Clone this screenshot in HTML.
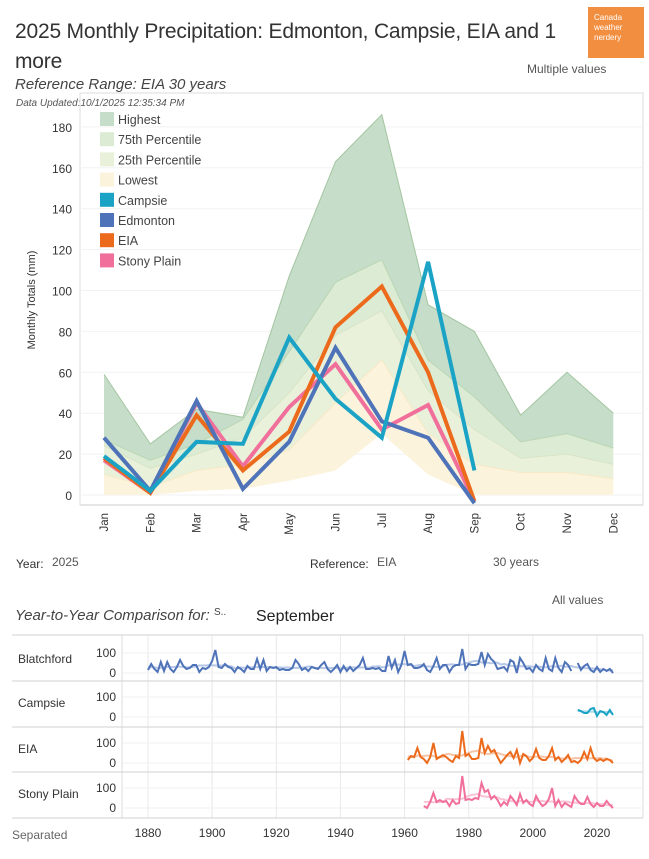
<!DOCTYPE html>
<html><head><meta charset="utf-8"><style>
body{margin:0;width:649px;height:859px;background:#fff;font-family:"Liberation Sans",sans-serif;color:#333;position:relative;overflow:hidden}
.t{position:absolute;white-space:nowrap}
</style></head><body>
<div class="t" style="left:15px;top:17px;font-size:21px;color:#333;line-height:30px;letter-spacing:-0.2px">2025 Monthly Precipitation: Edmonton, Campsie, EIA and 1<br>more</div>
<div class="t" style="left:588px;top:7px;width:56px;height:51px;background:#f28e3f;color:#fff;font-size:8px;line-height:10px;padding:6px 0 0 6px;box-sizing:border-box;white-space:normal">Canada weather nerdery</div>
<div class="t" style="left:527px;top:62px;font-size:12px;color:#555">Multiple values</div>
<div class="t" style="left:15px;top:76px;font-size:15px;font-style:italic;color:#444">Reference Range: EIA 30 years</div>
<div class="t" style="left:16px;top:98px;font-size:10px;font-style:italic;color:#555">Data Updated:10/1/2025 12:35:34 PM</div>
<svg id="main" width="649" height="545" style="position:absolute;left:0;top:0"></svg>
<div class="t" style="left:16px;top:557px;font-size:12px">Year:</div>
<div class="t" style="left:52px;top:555px;font-size:12px;color:#555">2025</div>
<div class="t" style="left:310px;top:557px;font-size:12px">Reference:</div>
<div class="t" style="left:377px;top:555px;font-size:12px;color:#555">EIA</div>
<div class="t" style="left:493px;top:555px;font-size:12px;color:#555">30 years</div>
<div class="t" style="left:552px;top:593px;font-size:12px;color:#555">All values</div>
<div class="t" style="left:15px;top:607px;font-size:15px;font-style:italic;color:#444">Year-to-Year Comparison for: <span style="font-size:10px;vertical-align:top;font-style:normal">S..</span></div>
<div class="t" style="left:256px;top:608px;font-size:16px;color:#222">September</div>
<div class="t" style="left:12px;top:828px;font-size:12px;color:#666">Separated</div>
<svg id="low" width="649" height="859" style="position:absolute;left:0;top:0"></svg>
<script>
const NS='http://www.w3.org/2000/svg';
const months=['Jan','Feb','Mar','Apr','May','Jun','Jul','Aug','Sep','Oct','Nov','Dec'];
const highest=[59,25,42,38,107,163,186,93,80,39,60,40];
const p75=[27,17,25,37,70,104,115,66,48,26,30,23];
const p50=[24,13,20,28,50,78,90,51,32,18,20,15];
const p25=[10,4,12,15,22,45,66,30,15,11,11,8];
const lowest=[0,0,2,3,7,12,30,10,0,0,0,0];
const campsie=[19,2,26,25,77,47,28,114,12];
const edmonton=[28,2,46,3,26,72,36,28,-4];
const eia=[18,1,39,12,31,82,102,60,-3];
const stony=[17,1,45,14,43,64,32,44,-3];
const yTicks=[0,20,40,60,80,100,120,140,160,180];

function el(svg,tag,a){const e=document.createElementNS(NS,tag);for(const k in a)e.setAttribute(k,a[k]);svg.appendChild(e);return e;}
const m=document.getElementById('main');
const X=i=>104+i*46.3, Y=v=>495-v*2.045;
el(m,'rect',{x:80,y:93,width:563,height:412,fill:'none',stroke:'#ddd'});
yTicks.forEach(v=>{
 const g=el(m,'line',{x1:80,x2:643,y1:Y(v),y2:Y(v),stroke:'#f2f2f2'});
 
 const t=el(m,'text',{x:72,y:Y(v)+5,'text-anchor':'end','font-size':12,fill:'#333'});t.textContent=v;
 
});
const yt=el(m,'text',{transform:'translate(35,300) rotate(-90)','text-anchor':'middle','font-size':11,fill:'#333'});yt.textContent='Monthly Totals (mm)';

function band(top,bot,fill,stroke,name){
 let d='M'+top.map((v,i)=>X(i)+','+Y(v)).join('L');
 for(let i=bot.length-1;i>=0;i--)d+='L'+X(i)+','+Y(bot[i]);
 const p=el(m,'path',{d:d+'Z',fill:fill,stroke:'none'});
 const l=el(m,'path',{d:'M'+top.map((v,i)=>X(i)+','+Y(v)).join('L'),fill:'none',stroke:stroke,'stroke-width':1});
 
}
band(highest,p75,'#c5ddc9','#a4c6a0','highest-band');
band(p75,p50,'#dbebd4','#bcd6b4','p75-band');
band(p50,p25,'#eaf1da','#d9e4c6','p25-band');
band(p25,lowest,'#fcf3dc','#f6e9c6','lowest-band');
el(m,'line',{x1:80,x2:643,y1:505,y2:505,stroke:'#ccc'});
months.forEach((mo,i)=>{const t=el(m,'text',{transform:`translate(${X(i)+4},513) rotate(-90)`,'text-anchor':'end','font-size':11.5,fill:'#333'});t.textContent=mo;
 });
function line(d,c,name){const p=el(m,'path',{d:'M'+d.map((v,i)=>X(i)+','+Y(v)).join('L'),fill:'none',stroke:c,'stroke-width':4,'stroke-linejoin':'miter'});}
line(stony,'#f0709b','stony-plain-line');
line(eia,'#ec6a1c','eia-line');
line(edmonton,'#4e73b8','edmonton-line');
line(campsie,'#1ba3c6','campsie-line');
const leg=[['Highest','#c5ddc9'],['75th Percentile','#dbebd4'],['25th Percentile','#eaf1da'],['Lowest','#fcf3dc'],['Campsie','#1ba3c6'],['Edmonton','#4e73b8'],['EIA','#ec6a1c'],['Stony Plain','#f0709b']];
leg.forEach((l,i)=>{const yy=112+i*20.2;
 const r=el(m,'rect',{x:100,y:yy,width:14,height:14,fill:l[1]});
 const t=el(m,'text',{x:118,y:yy+12,'font-size':12.5,fill:'#444'});t.textContent=l[0];});

// lower panel
const startB=1880;
const blatch=[15,45,20,5,55,10,55,20,5,30,65,35,20,25,40,40,5,25,20,30,60,115,30,25,45,30,25,5,30,20,5,35,20,20,70,20,65,10,30,25,30,15,20,15,15,25,65,45,15,25,10,30,25,20,40,55,20,5,20,40,5,35,10,30,10,25,40,75,20,20,25,20,25,10,10,85,25,65,5,40,110,40,45,25,25,30,45,15,5,35,75,20,40,40,5,30,40,40,120,20,45,40,40,45,105,40,95,70,55,20,25,30,10,65,55,0,75,50,20,25,5,40,20,10,75,20,10,75,25,5,55,40,10,null,50,15,35,45,15,5,30,5,20,10,20,0];
const startC=2014;
const campY=[35,30,20,20,40,45,5,30,25,10,35,10];
const startE=1961;
const eiaY=[15,35,30,75,30,20,0,30,100,20,30,40,30,15,5,35,25,160,35,45,20,20,25,125,50,85,55,65,30,0,20,40,55,25,65,0,45,35,10,25,70,25,15,15,35,75,15,30,5,20,40,5,10,0,15,55,20,75,25,10,20,10,20,15,0];
const startS=1966;
const stonyY=[10,0,30,75,30,40,30,35,10,40,20,25,160,40,45,40,50,45,125,80,90,45,60,40,10,30,15,60,40,15,70,25,40,20,10,60,30,10,20,45,100,10,40,5,25,15,5,60,35,20,20,55,20,5,25,10,10,35,15,0];
const xTicks=[1880,1900,1920,1940,1960,1980,2000,2020];
const rowNames=['Blatchford','Campsie','EIA','Stony Plain'];
const lo=document.getElementById('low');
const YX=yr=>148+(yr-1880)*3.207;
const zeroY=[673,717,763,808];
el(lo,'line',{x1:122,x2:122,y1:635,y2:818,stroke:'#ddd'});
el(lo,'line',{x1:643,x2:643,y1:635,y2:818,stroke:'#ddd'});
xTicks.forEach(yr=>{const g=el(lo,'line',{x1:YX(yr),x2:YX(yr),y1:635,y2:818,stroke:'#e8e8e8'});
 const t=el(lo,'text',{x:YX(yr),y:837,'text-anchor':'middle','font-size':12,fill:'#333'});t.textContent=yr;});
[635,681,727,772,818].forEach(y=>{const l=el(lo,'line',{x1:12,x2:643,y1:y,y2:y,stroke:'#d0d0d0'});});
rowNames.forEach((n,i)=>{
 const t=el(lo,'text',{x:18,y:zeroY[i]-10,'font-size':12,fill:'#333'});t.textContent=n;
 [0,100].forEach(v=>{el(lo,'line',{x1:122,x2:643,y1:zeroY[i]-v*0.2,y2:zeroY[i]-v*0.2,stroke:'#f0f0f0'});
  const tt=el(lo,'text',{x:116,y:zeroY[i]-v*0.2+4,'text-anchor':'end','font-size':12,fill:'#333'});tt.textContent=v;});
});
function series(arr,start,row,c,lc,name){
 const Yr=v=>zeroY[row]-v*0.2;
 let d2='',first=true;
 arr.forEach((v,i)=>{const w=arr.slice(Math.max(0,i-5),i+6).filter(x=>x!=null);if(!w.length)return;const a=w.reduce((s,x)=>s+x,0)/w.length;
  d2+=(first?'M':'L')+YX(start+i)+','+Yr(a);first=false;});
 const t=el(lo,'path',{d:d2,fill:'none',stroke:lc,'stroke-width':2});
 let d='',pen=false;
 arr.forEach((v,i)=>{if(v==null){pen=false;return;}d+=(pen?'L':'M')+YX(start+i)+','+Yr(v);pen=true;});
 const p=el(lo,'path',{d:d,fill:'none',stroke:c,'stroke-width':2});
}
series(blatch,startB,0,'#4e73b8','#b7c7e6','blatchford');
series(campY,startC,1,'#1ba3c6','#a8dbe8','campsie');
series(eiaY,startE,2,'#ec6a1c','#f7c4a6','eia');
series(stonyY,startS,3,'#f0709b','#f9c3d5','stony-plain');
</script>
</body></html>
